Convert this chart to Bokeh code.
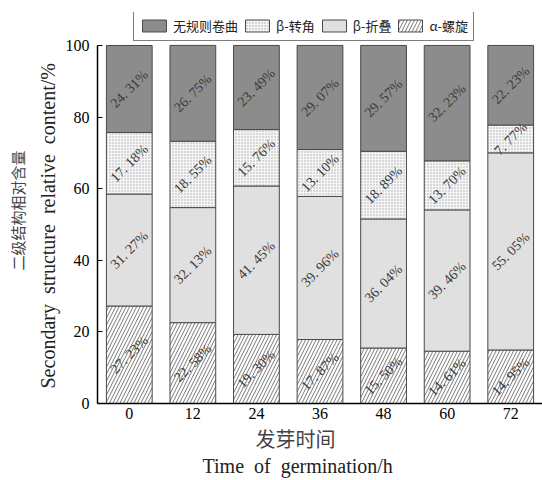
import math
from bokeh.plotting import figure
from bokeh.models import (ColumnDataSource, Range1d, FixedTicker, Title,
                          Legend, LegendItem)
from bokeh.core.properties import value
from bokeh.embed import file_html
from bokeh.resources import INLINE

hours = ["0", "12", "24", "36", "48", "60", "72"]
series_names = ["无规则卷曲", "β-转角", "β-折叠", "α-螺旋"]
alpha_helix = [27.23, 22.58, 19.30, 17.87, 15.50, 14.61, 14.95]
beta_sheet = [31.27, 32.13, 41.45, 39.96, 36.04, 39.46, 55.05]
beta_turn = [17.18, 18.55, 15.76, 13.10, 18.89, 13.70, 7.77]
random_coil = [24.31, 26.75, 23.49, 29.07, 29.57, 32.23, 22.23]
y_ticks = [0, 20, 40, 60, 80, 100]

xs = list(range(len(hours)))
stack_order = [alpha_helix, beta_sheet, beta_turn, random_coil]

SERIF = "Liberation Serif"
CJK = "Noto Sans CJK SC"
SP = "\u00a0\u00a0"

p = figure(width=542, height=480, output_backend="svg", toolbar_location=None,
           x_range=Range1d(-0.5, len(hours) - 0.5), y_range=Range1d(0, 109.2),
           min_border_left=97, min_border_right=0, min_border_top=12,
           min_border_bottom=77)
p.outline_line_color = None
p.xgrid.grid_line_color = None
p.ygrid.grid_line_color = None
p.background_fill_color = "white"

styles = [
    dict(fill_color="white", hatch_pattern="/", hatch_color="#555555", hatch_scale=7, hatch_weight=0.8),
    dict(fill_color="#e0e0e0"),
    dict(fill_color="#f6f6f6", hatch_pattern=".", hatch_color="#a8a8a8", hatch_scale=3, hatch_weight=1),
    dict(fill_color="#8c8c8c"),
]
renderers = []
bottoms = [0.0] * len(xs)
label_x, label_y, label_t = [], [], []
for vals, st in zip(stack_order, styles):
    tops = [b + v for b, v in zip(bottoms, vals)]
    src = ColumnDataSource(dict(x=xs, bottom=bottoms, top=tops))
    r = p.vbar(x="x", bottom="bottom", top="top", width=0.72, source=src,
               line_color="#4a4a4a", line_width=1, **st)
    renderers.append(r)
    for xi, b, v in zip(xs, bottoms, vals):
        label_x.append(xi)
        label_y.append(b + v / 2)
        label_t.append(f"{v:.2f}".replace(".", ". ") + "%")
    bottoms = tops

lsrc = ColumnDataSource(dict(x=label_x, y=label_y, t=label_t))
p.text(x="x", y="y", text="t", source=lsrc, angle=math.pi / 4,
       text_align="center", text_baseline="middle",
       text_font=value(SERIF), text_font_size="14px", text_color="#3a3a3a")

# axes
p.yaxis.ticker = FixedTicker(ticks=y_ticks)
p.yaxis.bounds = (0, 100)
p.yaxis.major_tick_in = 5
p.yaxis.major_tick_out = 0
p.yaxis.minor_tick_line_color = None
p.yaxis.axis_line_width = 1.5
p.yaxis.major_label_text_font = SERIF
p.yaxis.major_label_text_font_size = "16px"
p.yaxis.major_label_text_color = "black"
p.yaxis.major_label_standoff = 8

p.xaxis.ticker = FixedTicker(ticks=xs)
p.xaxis.major_label_overrides = {i: h for i, h in zip(xs, hours)}
p.xaxis.major_tick_in = 0
p.xaxis.major_tick_out = 0
p.xaxis.minor_tick_line_color = None
p.xaxis.axis_line_width = 1.5
p.xaxis.major_label_text_font = SERIF
p.xaxis.major_label_text_font_size = "16px"
p.xaxis.major_label_text_color = "black"
p.xaxis.major_label_standoff = 4

x_cn = Title(text="发芽时间", align="left", text_font=CJK,
             text_font_style="normal", text_font_size="20px", text_color="#444444",
             standoff=0, offset=158)
p.add_layout(x_cn, "below")
x_en = Title(text=f"Time{SP}of{SP}germination/h", align="left", text_font=SERIF,
             text_font_style="normal", text_font_size="20px", text_color="#222222",
             standoff=0, offset=105)
p.add_layout(x_en, "below")

y_en = Title(text=f"Secondary{SP}structure{SP}relative{SP}content/%", align="left",
             text_font=SERIF, text_font_style="normal", text_font_size="20px",
             text_color="#222222", standoff=8, offset=15)
p.add_layout(y_en, "left")
y_cn = Title(text="二级结构相对含量", align="left", text_font=CJK,
             text_font_style="normal", text_font_size="15px", text_color="#444444",
             standoff=6, offset=133)
p.add_layout(y_cn, "left")

legend_order = [3, 2, 1, 0]
items = [LegendItem(label=series_names[i], renderers=[renderers[ri]])
         for i, ri in enumerate(legend_order)]
legend = Legend(items=items, orientation="horizontal", location=(36, 362),
                border_line_color="black", border_line_width=1.2,
                background_fill_color="white", background_fill_alpha=1,
                glyph_width=30, glyph_height=15, label_height=18,
                label_standoff=4, spacing=4, padding=5, margin=0,
                label_text_font=CJK, label_text_font_size="13px",
                label_text_color="#222222")
p.add_layout(legend, "center")

open("out.html", "w").write(file_html(p, INLINE))
